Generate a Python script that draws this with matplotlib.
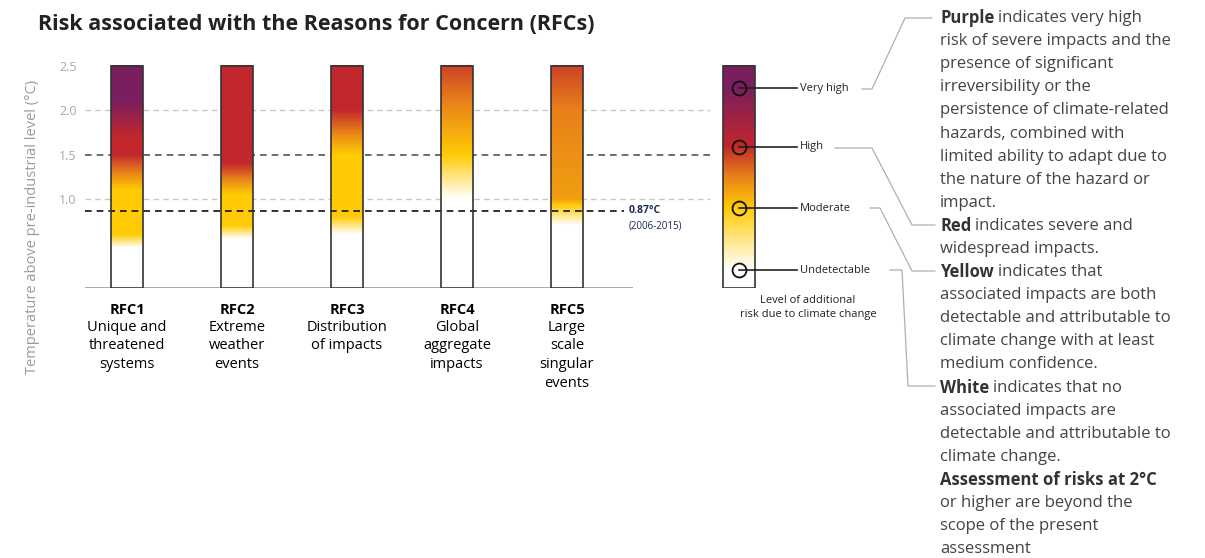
import matplotlib.pyplot as plt
import numpy as np
from matplotlib.colors import LinearSegmentedColormap
from matplotlib.patches import Rectangle
from matplotlib.lines import Line2D

plt.rcParams['font.family'] = ['Open Sans', 'DejaVu Sans']

# --- Data: ember transitions (temperature in degC, risk level 0=white 1=yellow 2=red 3=purple) ---
rfc_names = ["RFC1", "RFC2", "RFC3", "RFC4", "RFC5"]
rfc_desc = ["Unique and\nthreatened\nsystems", "Extreme\nweather\nevents",
            "Distribution\nof impacts", "Global\naggregate\nimpacts",
            "Large\nscale\nsingular\nevents"]
rfc1_temp = [0.0, 0.45, 0.6, 1.1, 1.5, 1.7, 2.1, 2.5]
rfc1_level = [0, 0, 1, 1, 2, 2, 3, 3]
rfc2_temp = [0.0, 0.55, 0.7, 1.05, 1.4, 2.5]
rfc2_level = [0, 0, 1, 1, 2, 2]
rfc3_temp = [0.0, 0.6, 0.8, 1.5, 2.0, 2.5]
rfc3_level = [0, 0, 1, 1, 2, 2]
rfc4_temp = [0.0, 1.0, 1.5, 2.5]
rfc4_level = [0, 0, 1, 1.85]
rfc5_temp = [0.0, 0.7, 1.0, 2.0, 2.5]
rfc5_level = [0, 0, 1.3, 1.5, 1.85]
key_temp = [0.0, 0.2, 0.9, 1.6, 2.25, 2.5]
key_level = [0, 0, 1, 2, 3, 3]

key_names = ["Very high", "High", "Moderate", "Undetectable"]
key_marks = [2.25, 1.59, 0.9, 0.2]

ticks = [1.0, 1.5, 2.0, 2.5]
observed = 0.87

ember_cmap = LinearSegmentedColormap.from_list(
    "ember", [(0, "#ffffff"), (1/3, "#ffcb05"), (0.5, "#e8811a"),
              (2/3, "#c1272d"), (1, "#7b1e5e")])

# --- Figure and axes ---
fig = plt.figure(figsize=(12.05, 5.58), dpi=100)
ax = fig.add_axes([85/1205, 270/558, 820/1205, 228/558])
ax.set_xlim(-0.382, 7.073)
ax.set_ylim(0, 228/88.8)
for s in ax.spines.values():
    s.set_visible(False)
ax.set_xticks([])
ax.set_yticks(ticks)
ax.set_yticklabels([f"{t:.1f}" for t in ticks], color="#a8a8a8", fontsize=9)
ax.tick_params(axis="y", length=0, pad=6)
ax.set_ylabel("Temperature above pre-industrial level (°C)", color="#9a9a9a", fontsize=10.5)
ax.yaxis.set_label_coords(-0.055, 0.27)

# reference lines
ax.hlines(2.0, -0.38, 5.3, colors="#c8c8c8", linestyles=(0, (4, 3)), lw=1, zorder=0)
ax.hlines(1.5, -0.38, 5.3, colors="#555555", linestyles=(0, (4, 3)), lw=1.2, zorder=0)
ax.hlines(1.0, -0.38, 5.3, colors="#c8c8c8", linestyles=(0, (4, 3)), lw=1, zorder=0)
ax.hlines(observed, -0.38, 4.52, colors="#111111", linestyles=(0, (4, 3)), lw=1.2, zorder=3)
ax.hlines(0, -0.38, 4.6, colors="#9a9a9a", lw=1.2, zorder=0)
ax.text(4.56, observed + 0.005, "0.87°C", fontsize=7.5, fontweight="bold", color="#1a2a5a", va="center")
ax.text(4.56, observed - 0.17, "(2006-2015)", fontsize=7, color="#1a2a5a", va="center")

# embers
w = 0.29
temps = np.linspace(0, 2.5, 400)
embers = [(rfc1_temp, rfc1_level), (rfc2_temp, rfc2_level), (rfc3_temp, rfc3_level),
          (rfc4_temp, rfc4_level), (rfc5_temp, rfc5_level)]
for i, (t, l) in enumerate(embers):
    col = np.interp(temps, t, l)[:, None]
    ax.imshow(col, cmap=ember_cmap, vmin=0, vmax=3, origin="lower", aspect="auto",
              extent=[i - w/2, i + w/2, 0, 2.5], zorder=2)
    ax.add_patch(Rectangle((i - w/2, 0), w, 2.5, fill=False, ec="#333333", lw=1.2, zorder=4))
    ax.text(i, -0.25, rfc_names[i], ha="center", va="center", fontsize=10.5,
            fontweight="bold", clip_on=False)
    ax.text(i, -0.36, rfc_desc[i], ha="center", va="top", fontsize=10.5,
            linespacing=1.32, clip_on=False)

# key ember
kx = 5.56
col = np.interp(temps, key_temp, key_level)[:, None]
ax.imshow(col, cmap=ember_cmap, vmin=0, vmax=3, origin="lower", aspect="auto",
          extent=[kx - w/2, kx + w/2, 0, 2.5], zorder=2)
ax.add_patch(Rectangle((kx - w/2, 0), w, 2.5, fill=False, ec="#333333", lw=1.2, zorder=4))
ax.set_xlim(-0.382, 7.073)
ax.set_ylim(0, 228/88.8)
label_x = 6.12
for name, m in zip(key_names, key_marks):
    ax.plot([kx, label_x - 0.03], [m, m], color="#222222", lw=1.2, zorder=5, clip_on=False)
    ax.plot(kx, m, "o", ms=10, mfc="none", mec="#111111", mew=1.3, zorder=6, clip_on=False)
    ax.text(label_x, m, name, fontsize=8, va="center", ha="left", color="#222222", clip_on=False)
ax.text(kx + 0.63, -0.22, "Level of additional\nrisk due to climate change", ha="center",
        va="center", fontsize=8, linespacing=1.35, color="#222222", clip_on=False)

# title
fig.text(38/1205, 1 - 25/558, "Risk associated with the Reasons for Concern (RFCs)",
         fontsize=15.5, fontweight="bold", va="center", color="#222222")

# explanatory text on the right
lines = [("Purple", "indicates very high"), ("", "risk of severe impacts and the"),
         ("", "presence of significant"), ("", "irreversibility or the"),
         ("", "persistence of climate-related"), ("", "hazards, combined with"),
         ("", "limited ability to adapt due to"), ("", "the nature of the hazard or"),
         ("", "impact."), ("Red", "indicates severe and"), ("", "widespread impacts."),
         ("Yellow", "indicates that"), ("", "associated impacts are both"),
         ("", "detectable and attributable to"), ("", "climate change with at least"),
         ("", "medium confidence."), ("White", "indicates that no"),
         ("", "associated impacts are"), ("", "detectable and attributable to"),
         ("", "climate change."), ("Assessment of risks at 2°C", ""),
         ("", "or higher are beyond the"), ("", "scope of the present"), ("", "assessment")]
renderer = fig.canvas.get_renderer()
tx = 940
for k, (b, rest) in enumerate(lines):
    py = 18 + k * 23.1
    x = tx / 1205
    if b:
        tb = fig.text(x, 1 - py/558, b, fontsize=12, fontweight="bold", va="center", color="#333333")
        bb = tb.get_window_extent(renderer)
        x = (bb.x1 + 4) / 1205
    if rest:
        fig.text(x, 1 - py/558, rest, fontsize=12, va="center", color="#444444")

# leader lines from key labels to the explanations
leaders = [[(862, 89), (872, 89), (905, 18), (932, 18)],
           [(835, 148), (872, 148), (912, 225), (935, 225)],
           [(870, 208), (880, 208), (912, 271), (935, 271)],
           [(890, 270), (902, 270), (908, 386), (935, 386)]]
for path in leaders:
    xs = [p[0] / 1205 for p in path]
    ys = [1 - p[1] / 558 for p in path]
    fig.add_artist(Line2D(xs, ys, color="#b0b0b0", lw=0.9))

plt.savefig("out.png", dpi=100)
